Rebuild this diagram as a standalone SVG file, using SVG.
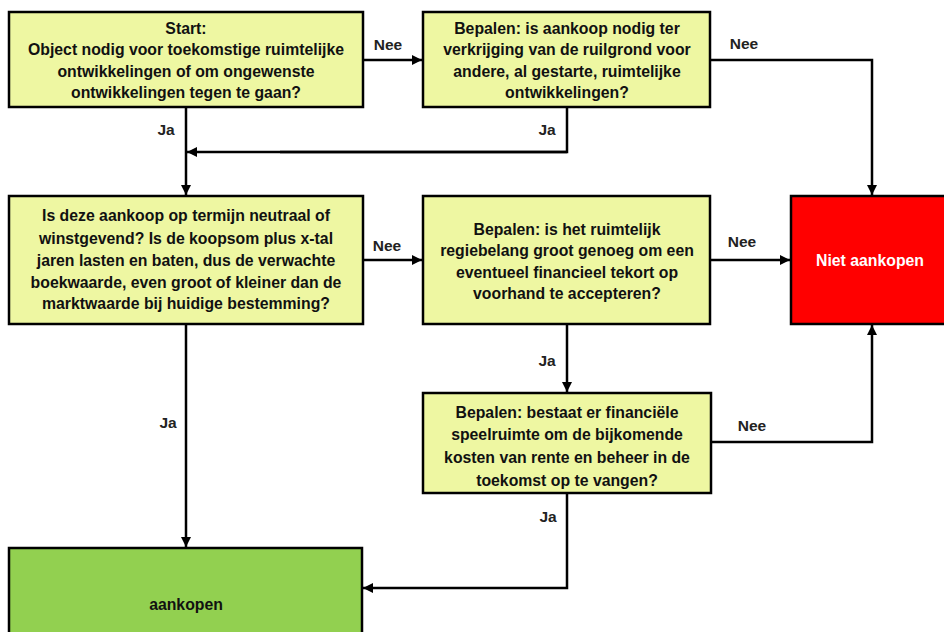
<svg xmlns="http://www.w3.org/2000/svg" width="944" height="632" viewBox="0 0 944 632">
<defs>
<marker id="ah" viewBox="0 0 10 10" refX="10" refY="5" markerWidth="4" markerHeight="4" markerUnits="strokeWidth" orient="auto">
<path d="M0,0 L10,5 L0,10 z" fill="#000"/>
</marker>
<style>
.box{fill:#EEF7A2;stroke:#000;stroke-width:2.5}
.t{font-family:"Liberation Sans",Arial,sans-serif;font-weight:bold;font-size:15.8px;fill:#111;text-anchor:middle}
.lbl{font-family:"Liberation Sans",Arial,sans-serif;font-weight:bold;font-size:15.5px;fill:#222;text-anchor:middle}
.c{fill:none;stroke:#000;stroke-width:2.5}
.ca{fill:none;stroke:#000;stroke-width:2.5;marker-end:url(#ah)}
</style>
</defs>
<rect width="944" height="632" fill="#fff"/>
<g id="connectors">
<path class="ca" d="M363,60 L422,60"/>
<path class="ca" d="M710,60 L872,60 L872,195"/>
<path class="c" d="M567,107 L567,152 L280,152"/>
<path class="ca" d="M567,152 L187,152"/>
<path class="ca" d="M186,107 L186,195"/>
<path class="ca" d="M363,260 L422,260"/>
<path class="ca" d="M710,260 L790,260"/>
<path class="ca" d="M567,324 L567,392"/>
<path class="ca" d="M699,442 L872,442 L872,325"/>
<path class="ca" d="M567,487 L567,588 L363,588"/>
<path class="ca" d="M186,324 L186,547"/>
<text class="lbl" x="388" y="50">Nee</text>
<text class="lbl" x="744" y="49">Nee</text>
<text class="lbl" x="166" y="135">Ja</text>
<text class="lbl" x="547" y="135">Ja</text>
<text class="lbl" x="387" y="251">Nee</text>
<text class="lbl" x="742" y="247">Nee</text>
<text class="lbl" x="547" y="366">Ja</text>
<text class="lbl" x="752" y="431">Nee</text>
<text class="lbl" x="548" y="522">Ja</text>
<text class="lbl" x="168" y="428">Ja</text>
</g>
<g id="start">
<rect class="box" x="9" y="12" width="354" height="95"/>
<text class="t" x="186" y="34">Start:</text>
<text class="t" x="186" y="55">Object nodig voor toekomstige ruimtelijke</text>
<text class="t" x="186" y="77">ontwikkelingen of om ongewenste</text>
<text class="t" x="186" y="98">ontwikkelingen tegen te gaan?</text>
</g>
<g id="ruilgrond">
<rect class="box" x="423" y="12" width="287" height="95"/>
<text class="t" x="567" y="34">Bepalen: is aankoop  nodig ter</text>
<text class="t" x="567" y="55">verkrijging van de ruilgrond voor</text>
<text class="t" x="567" y="77">andere, al gestarte, ruimtelijke</text>
<text class="t" x="567" y="98">ontwikkelingen?</text>
</g>
<g id="neutraal">
<rect class="box" x="9" y="196" width="354" height="128"/>
<text class="t" x="186" y="221">Is deze aankoop op termijn neutraal of</text>
<text class="t" x="186" y="244">winstgevend? Is de koopsom plus x-tal</text>
<text class="t" x="186" y="266">jaren lasten en baten, dus de verwachte</text>
<text class="t" x="186" y="288">boekwaarde, even groot of kleiner dan de</text>
<text class="t" x="186" y="309">marktwaarde bij huidige bestemming?</text>
</g>
<g id="regiebelang">
<rect class="box" x="423" y="196" width="287" height="128"/>
<text class="t" x="567" y="235">Bepalen: is het ruimtelijk</text>
<text class="t" x="567" y="256">regiebelang groot genoeg om een</text>
<text class="t" x="567" y="278">eventueel financieel tekort op</text>
<text class="t" x="567" y="299">voorhand  te accepteren?</text>
</g>
<g id="speelruimte">
<rect class="box" x="423" y="393" width="288" height="100"/>
<text class="t" x="567" y="418">Bepalen: bestaat er financiële</text>
<text class="t" x="567" y="440">speelruimte om de bijkomende</text>
<text class="t" x="567" y="463">kosten van  rente en beheer in de</text>
<text class="t" x="567" y="486">toekomst op te vangen?</text>
</g>
<g id="niet-aankopen">
<rect x="791" y="196" width="160" height="128" fill="#FF0000" stroke="#000" stroke-width="2.5"/>
<text class="t" x="870" y="266" style="fill:#fff">Niet aankopen</text>
</g>
<g id="aankopen">
<rect x="9" y="548" width="353" height="100" fill="#92D050" stroke="#000" stroke-width="2.5"/>
<text class="t" x="186" y="610">aankopen</text>
</g>
</svg>
